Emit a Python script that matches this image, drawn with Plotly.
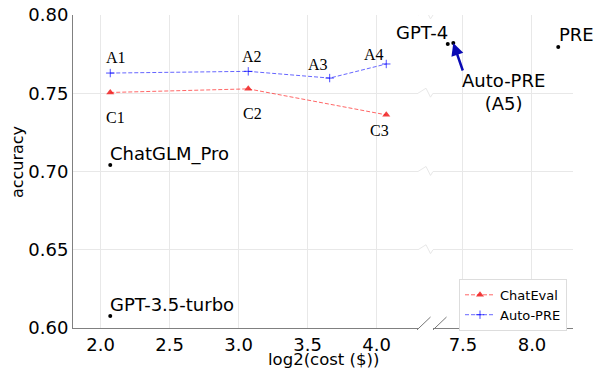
import plotly.graph_objects as go

# ---- data ----
chateval_labels = ["C1", "C2", "C3"]
chateval_x = [2.07, 3.07, 4.07]
chateval_y = [0.7505, 0.7528, 0.7362]

autopre_labels = ["A1", "A2", "A3", "A4"]
autopre_x = [2.07, 3.07, 3.66, 4.07]
autopre_y = [0.7629, 0.7640, 0.7597, 0.7687]

left_models = ["ChatGLM_Pro", "GPT-3.5-turbo"]
left_x = [2.07, 2.07]
left_y = [0.7042, 0.6077]

right_models = ["GPT-4", "Auto-PRE (A5)", "PRE"]
right_x = [7.39, 7.43, 8.19]
right_y = [0.7815, 0.7821, 0.7796]

left_ticks = [2.0, 2.5, 3.0, 3.5, 4.0]
right_ticks = [7.5, 8.0]
y_ticks = [0.60, 0.65, 0.70, 0.75, 0.80]

SANS = "DejaVu Sans"
SERIF = "Liberation Serif"
GRID = "#e8e8e8"

fig = go.Figure()

fig.add_trace(go.Scatter(
    x=chateval_x, y=chateval_y, mode="lines+markers", name="ChatEval",
    line=dict(color="rgba(255,0,0,0.6)", width=1, dash="4px,2px"),
    marker=dict(symbol="triangle-up", size=7, color="rgba(240,30,30,0.85)"),
    xaxis="x", yaxis="y"))
fig.add_trace(go.Scatter(
    x=autopre_x, y=autopre_y, mode="lines+markers", name="Auto-PRE",
    line=dict(color="rgba(0,0,255,0.6)", width=1, dash="4px,2px"),
    marker=dict(symbol="cross-thin", size=6, color="rgba(0,0,255,0.7)",
                line=dict(width=1, color="rgba(0,0,255,0.7)")),
    xaxis="x", yaxis="y"))
fig.add_trace(go.Scatter(
    x=left_x, y=left_y, mode="markers", showlegend=False,
    marker=dict(color="black", size=4), xaxis="x", yaxis="y"))
fig.add_trace(go.Scatter(
    x=right_x, y=right_y, mode="markers", showlegend=False,
    marker=dict(color="black", size=4), xaxis="x2", yaxis="y"))

ann = []
# A / C labels (serif)
a_off = [(6, 16), (4, 15), (-12, 14), (-12, 9)]
for lab, x, y, (dx, dy) in zip(autopre_labels, autopre_x, autopre_y, a_off):
    ann.append(dict(x=x, y=y, xref="x", yref="y", text=lab, showarrow=False,
                    xshift=dx, yshift=dy, xanchor="center", yanchor="middle",
                    font=dict(family=SERIF, size=16, color="black")))
c_off = [(5, -25), (4, -25), (-7, -16)]
for lab, x, y, (dx, dy) in zip(chateval_labels, chateval_x, chateval_y, c_off):
    ann.append(dict(x=x, y=y, xref="x", yref="y", text=lab, showarrow=False,
                    xshift=dx, yshift=dy, xanchor="center", yanchor="middle",
                    font=dict(family=SERIF, size=16, color="black")))
# model labels
for lab, x, y in zip(left_models, left_x, left_y):
    ann.append(dict(x=x, y=y, xref="x", yref="y", text=lab, showarrow=False,
                    xshift=-2, yshift=11, xanchor="left", yanchor="middle",
                    font=dict(family=SANS, size=18, color="black")))
ann.append(dict(x=right_x[0], y=right_y[0], xref="x2", yref="y", text=right_models[0],
                showarrow=False, xshift=2, yshift=11, xanchor="right", yanchor="middle",
                font=dict(family=SANS, size=18, color="black")))
ann.append(dict(x=right_x[2], y=right_y[2], xref="x2", yref="y", text=right_models[2],
                showarrow=False, xshift=-1, yshift=12, xanchor="left", yanchor="middle",
                font=dict(family=SANS, size=18, color="black")))
# arrow to Auto-PRE (A5)
ann.append(dict(x=right_x[1], y=right_y[1], xref="x2", yref="y", text="",
                showarrow=True, ax=10, ay=29, arrowhead=2, arrowsize=1,
                arrowwidth=2.5, arrowcolor="#0a0ab4", standoff=0))
ann.append(dict(x=right_x[1], y=right_y[1], xref="x2", yref="y",
                text="Auto-PRE<br>(A5)", showarrow=False, xshift=50, yshift=-49,
                xanchor="center", yanchor="middle",
                font=dict(family=SANS, size=18, color="black")))
# axis titles
ann.append(dict(x=0.5, y=-0.134, xref="paper", yref="paper",
                text="log2(cost ($))", showarrow=False,
                xanchor="center", yanchor="bottom", borderpad=0,
                font=dict(family=SANS, size=16.5)))
ann.append(dict(x=-0.112, y=0.53, xref="paper", yref="paper",
                text="accuracy", showarrow=False, textangle=-90,
                xanchor="center", yanchor="middle",
                font=dict(family=SANS, size=16)))

# zig-zag gridline breaks and axis break marks
shapes = []
for yv in y_ticks[1:]:
    shapes.append(dict(type="path", xref="paper", yref="y",
                       path=f"M 0.69,{yv} L 0.706,{yv + 0.0032} L 0.715,{yv - 0.0025} L 0.72,{yv}",
                       line=dict(color=GRID, width=1)))
for x0 in (0.688, 0.72):
    shapes.append(dict(type="line", xref="paper", yref="paper",
                       x0=x0, y0=-0.006, x1=x0 + 0.027, y1=0.035,
                       line=dict(color="#777777", width=1)))

axis_common = dict(showgrid=True, gridcolor=GRID, gridwidth=1, zeroline=False,
                   showline=True, linecolor="#808080", linewidth=1, ticks="",
                   ticklen=0, tickfont=dict(size=18), automargin=False)

fig.update_layout(
    width=603, height=371,
    margin=dict(l=73, r=30, t=15, b=43),
    plot_bgcolor="white", paper_bgcolor="white",
    font=dict(family=SANS, size=18, color="black"),
    xaxis=dict(domain=[0, 0.69], range=[1.8, 4.3], tickvals=left_ticks,
               ticktext=[f"{t:.1f}" for t in left_ticks], anchor="y", **axis_common),
    xaxis2=dict(domain=[0.72, 1.0], range=[7.283, 8.297], tickvals=right_ticks,
                ticktext=[f"{t:.1f}" for t in right_ticks], anchor="y", **axis_common),
    yaxis=dict(range=[0.6, 0.8], tickvals=y_ticks,
               ticktext=[f"{t:.2f}" for t in y_ticks], anchor="x", **axis_common),
    legend=dict(x=0.772, y=0.157, xanchor="left", yanchor="top",
                bgcolor="white", bordercolor="#dddddd", borderwidth=1,
                font=dict(family=SANS, size=13), itemwidth=30,
                tracegroupgap=0),
    annotations=ann,
    shapes=shapes,
)

fig.write_html("out.html", config={"displayModeBar": False},
               post_script="document.body.style.margin='0';document.body.style.padding='0';")
